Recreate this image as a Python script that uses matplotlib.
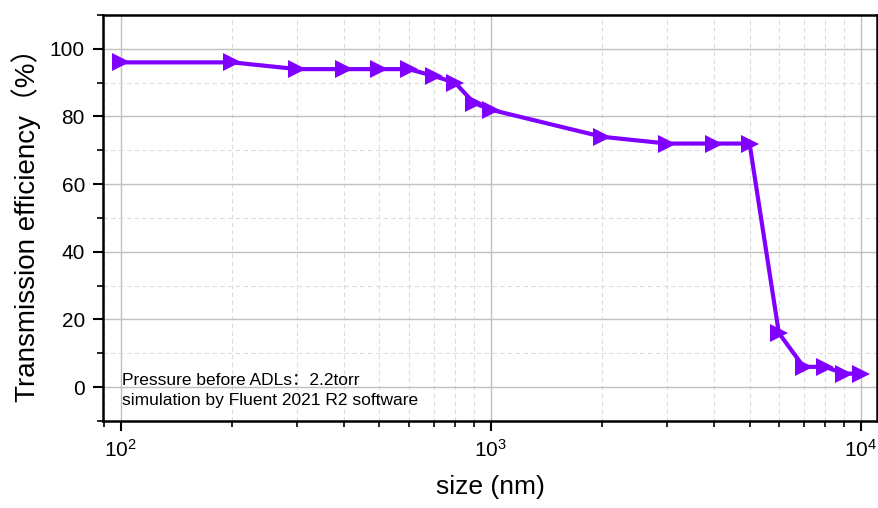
import numpy as np
import matplotlib.pyplot as plt
from matplotlib.ticker import LogLocator, MultipleLocator, NullFormatter

plt.rcParams['font.family'] = ['Liberation Sans', 'Noto Sans CJK SC', 'DejaVu Sans']
plt.rcParams['mathtext.fontset'] = 'custom'
plt.rcParams['mathtext.rm'] = 'Liberation Sans'

size_nm = [100, 200, 300, 400, 500, 600, 700, 800, 900, 1000,
           2000, 3000, 4000, 5000, 6000, 7000, 8000, 9000, 10000]
efficiency = [96, 96, 94, 94, 94, 94, 92, 90, 84, 82,
              74, 72, 72, 72, 16, 6, 6, 4, 4]

fig = plt.figure(figsize=(8.79, 5.08), dpi=100)
ax = fig.add_axes([103 / 879, 1 - 421 / 508, (877 - 103) / 879, (421 - 15) / 508])

ax.plot(size_nm, efficiency, color='#8000ff', lw=3.0, marker='>', ms=13,
        markeredgewidth=0, zorder=3)

ax.set_xscale('log')
ax.set_xlim(89.5, 11050)
ax.set_ylim(-10, 110)

ax.xaxis.set_major_locator(LogLocator(base=10, numticks=10))
ax.xaxis.set_minor_locator(LogLocator(base=10, subs=np.arange(2, 10), numticks=20))
ax.xaxis.set_minor_formatter(NullFormatter())
ax.yaxis.set_major_locator(MultipleLocator(20))
ax.yaxis.set_minor_locator(MultipleLocator(10))

ax.grid(which='major', color='#c0c0c0', lw=1.0, ls='-')
ax.grid(which='minor', color='#dcdcdc', lw=0.8, ls=(0, (4, 3)))
ax.set_axisbelow(True)

ax.tick_params(which='major', direction='out', length=7, width=1.5, labelsize=15,
               top=False, right=False, pad=6)
ax.tick_params(which='minor', direction='out', length=4, width=1.2,
               top=False, right=False)
for s in ax.spines.values():
    s.set_linewidth(1.8)

ax.set_xlabel('size (nm)', fontsize=19, labelpad=10)
ax.set_ylabel('Transmission efficiency（%）', fontsize=20, labelpad=6)

ax.text(0.024, 0.118, 'Pressure before ADLs：2.2torr\nsimulation by Fluent 2021 R2 software',
        transform=ax.transAxes, fontsize=12.5, va='top', ha='left', linespacing=1.45)

fig.savefig('out.png', dpi=100)
